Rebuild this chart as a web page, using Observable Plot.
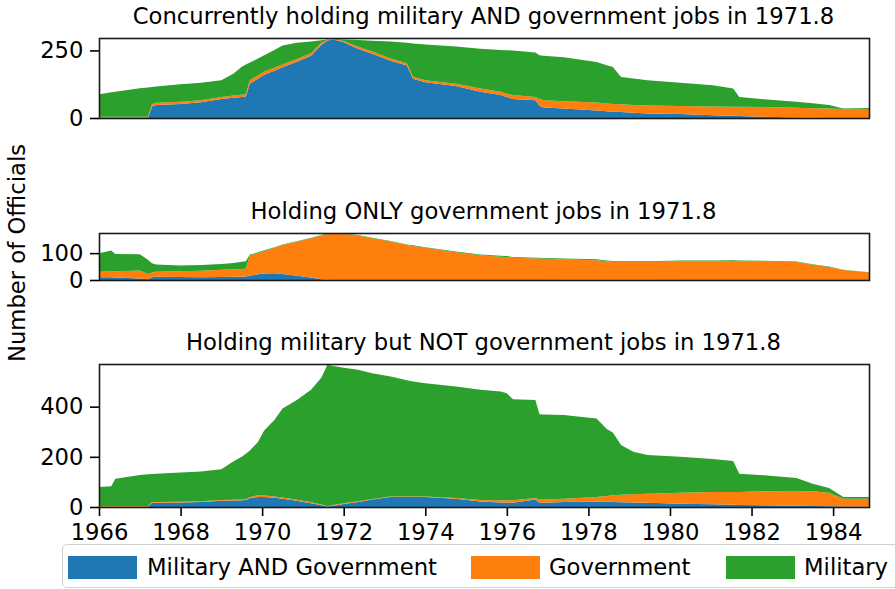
<!DOCTYPE html>
<html>
<head>
<meta charset="utf-8">
<script src="https://cdn.jsdelivr.net/npm/d3@7"></script>
<script src="https://cdn.jsdelivr.net/npm/@observablehq/plot@0.6"></script>
<style>
  html, body { margin: 0; padding: 0; background: #fff; }
  #wrap { position: relative; width: 895px; height: 589px; overflow: hidden; font-family: "DejaVu Sans", sans-serif; color: #000; }
  .ttl { position: absolute; left: 0; width: 967px; text-align: center; font-size: 22.7px; line-height: 1; white-space: nowrap; }
  .pl { position: absolute; left: 0; }
  #ylab { position: absolute; left: 17px; top: 253px; transform: translate(-50%, -50%) rotate(-90deg); font-size: 22.7px; white-space: nowrap; line-height: 1; }
  #legend { position: absolute; left: 62px; top: 544px; width: 900px; height: 44px; border: 1.5px solid #d0d0d0; border-radius: 5px; box-sizing: border-box; }
  .sw { position: absolute; top: 556px; width: 69px; height: 23px; }
  .lt { position: absolute; top: 556px; font-size: 22.7px; line-height: 23px; white-space: nowrap; }
</style>
</head>
<body>
<div id="wrap"></div>
<script>
const seriesNames = ["Military AND Government", "Government", "Military"];
const seriesColors = ["#1f77b4", "#ff7f0e", "#2ca02c"];
const xTicks = [1966, 1968, 1970, 1972, 1974, 1976, 1978, 1980, 1982, 1984];

const years = [1966.0, 1966.3, 1966.4, 1967.0, 1967.2, 1967.3, 1967.4, 1968.0, 1968.5, 1969.0,
  1969.3, 1969.5, 1969.6, 1969.7, 1969.9, 1970.05, 1970.3, 1970.5, 1970.85, 1971.2,
  1971.45, 1971.6, 1971.75, 1972.0, 1972.35, 1972.7, 1973.15, 1973.55, 1973.7, 1974.0,
  1974.75, 1975.35, 1975.85, 1976.0, 1976.15, 1976.7, 1976.8, 1976.9, 1977.4, 1978.2,
  1978.45, 1978.6, 1978.8, 1979.1, 1979.45, 1980.25, 1981.05, 1981.55, 1981.7, 1982.3,
  1983.1, 1983.5, 1983.9, 1984.25, 1984.9];

// Panel 1: Concurrently holding military AND government jobs
const p1MilGov = [0,0,0,0,0,43,48,52,58,70, 75,78,80,128,145,160,175,188,208,230, 270,287,290,280,256,238,212,194,145,132, 118,97,85,78,70,66,45,39,35,28, 25,23,22,19,17,15,10,8,7,5, 2,1,0,0,0];
const p1Gov    = [5,5,5,5,5,8,8,8,8,8, 8,8,8,12,13,12,11,10,10,10, 8,2,1,5,8,8,8,8,8,8, 9,12,12,12,15,12,25,27,27,29, 29,29,29,29,29,29,33,34,35,36, 36,35,35,33,33];
const p1Mil    = [83,90,92,105,108,64,61,65,64,62, 82,104,110,65,62,60,66,70,60,43, 10,1,1,5,25,40,63,76,123,132, 138,147,155,161,165,164,162,164,163,150, 141,137,101,98,94,86,78,67,36,28, 22,19,13,2,4];

// Panel 2: Holding ONLY government jobs
const p2MilGov = [10,10,9,6,3,10,12,11,10,11, 12,12,13,17,21,24,25,22,16,9, 3,1,0,0,0,0,0,0,0,0, 0,0,0,0,0,0,0,0,1,1, 1,1,1,1,1,0,0,0,0,0, 0,0,0,0,0];
const p2Gov    = [21,22,24,29,19,18,19,22,24,27, 28,29,29,75,79,84,95,108,126,146, 163,170,173,172,166,155,143,130,127,120, 103,92,87,86,83,80,80,79,76,73, 69,67,66,66,66,70,70,71,70,69, 67,57,48,37,28];
const p2Mil    = [69,78,64,61,53,34,27,21,22,22, 23,27,28,3,3,3,2,2,2,2, 2,2,2,2,2,2,2,2,2,2, 3,3,3,3,3,3,3,3,3,3, 3,3,3,3,3,3,3,3,3,3, 2,2,2,1,1];

// Panel 3: Holding military but NOT government jobs
const p3MilGov = [0,0,0,0,0,17,17,18,20,25, 26,27,28,35,40,40,37,33,25,15, 7,1,5,12,20,30,40,40,40,40, 33,22,18,17,17,30,17,17,20,22, 22,20,19,18,17,13,11,9,8,7, 5,4,3,2,1];
const p3Gov    = [3,3,3,3,3,3,3,3,3,3, 3,3,3,5,7,6,5,5,4,4, 3,2,3,3,3,2,2,2,2,2, 3,6,9,10,10,6,13,13,13,18, 22,27,30,33,36,44,49,51,52,56, 59,59,54,31,32];
const p3Mil    = [77,80,110,125,128,112,113,117,119,122, 153,170,181,185,213,259,305,355,398,448, 505,564,554,540,524,501,478,463,458,451, 444,439,433,426,402,391,340,339,334,313, 267,250,198,169,154,143,131,123,73,64, 52,30,19,7,7];

const panels = [
  {title: "Concurrently holding military AND government jobs in 1971.8", series: [p1MilGov, p1Gov, p1Mil], yDomain: [0, 296], yTicks: [0, 250], svgTop: 0, marginTop: 38, frameBottom: 118, titleBase: 23, xAxis: false},
  {title: "Holding ONLY government jobs in 1971.8", series: [p2MilGov, p2Gov, p2Mil], yDomain: [0, 175], yTicks: [0, 100], svgTop: 200, marginTop: 33, frameBottom: 280, titleBase: 218, xAxis: false},
  {title: "Holding military but NOT government jobs in 1971.8", series: [p3MilGov, p3Gov, p3Mil], yDomain: [0, 570], yTicks: [0, 200, 400], svgTop: 340, marginTop: 24, frameBottom: 507, titleBase: 349, xAxis: true}
];

const wrap = document.getElementById("wrap");

for (const p of panels) {
  const rows = [];
  p.series.forEach((vals, si) => {
    vals.forEach((v, i) => rows.push({year: years[i], series: seriesNames[si], value: v}));
  });
  const marginBottom = p.xAxis ? 42 : 2;
  const height = p.frameBottom - p.svgTop + marginBottom;
  const marks = [
    Plot.areaY(rows, {x: "year", y: "value", fill: "series", order: seriesNames}),
    Plot.axisY({ticks: p.yTicks, tickSize: 9, tickPadding: 7, strokeWidth: 1.6, stroke: "#000", fill: "#000", label: null, tickFormat: "d"}),
  ];
  if (p.xAxis) {
    marks.push(Plot.axisX({ticks: xTicks, tickSize: 9, tickPadding: 7, strokeWidth: 1.6, stroke: "#000", fill: "#000", label: null, tickFormat: "d"}));
  }
  marks.push(Plot.frame({stroke: "#1a1a1a", strokeWidth: 1.6}));
  const chart = Plot.plot({
    width: 895,
    height,
    marginLeft: 99,
    marginRight: 26,
    marginTop: p.marginTop,
    marginBottom,
    style: {fontFamily: "DejaVu Sans", fontSize: "22.7px", background: "transparent", color: "#000", overflow: "visible"},
    x: {domain: [1966, 1984.88], axis: p.xAxis ? undefined : null},
    y: {domain: p.yDomain},
    color: {domain: seriesNames, range: seriesColors},
    marks
  });
  chart.classList.add("pl");
  chart.style.top = p.svgTop + "px";
  wrap.appendChild(chart);

  const t = document.createElement("div");
  t.className = "ttl";
  t.textContent = p.title;
  t.style.top = (p.titleBase - 18) + "px";
  wrap.appendChild(t);
}

const yl = document.createElement("div");
yl.id = "ylab";
yl.textContent = "Number of Officials";
wrap.appendChild(yl);

const lg = document.createElement("div");
lg.id = "legend";
wrap.appendChild(lg);
const swX = [68, 471, 726];
const txX = [147, 549, 804];
seriesNames.forEach((name, i) => {
  const s = document.createElement("div");
  s.className = "sw";
  s.style.left = swX[i] + "px";
  s.style.background = seriesColors[i];
  wrap.appendChild(s);
  const tx = document.createElement("div");
  tx.className = "lt";
  tx.style.left = txX[i] + "px";
  tx.textContent = name;
  wrap.appendChild(tx);
});
</script>
</body>
</html>
